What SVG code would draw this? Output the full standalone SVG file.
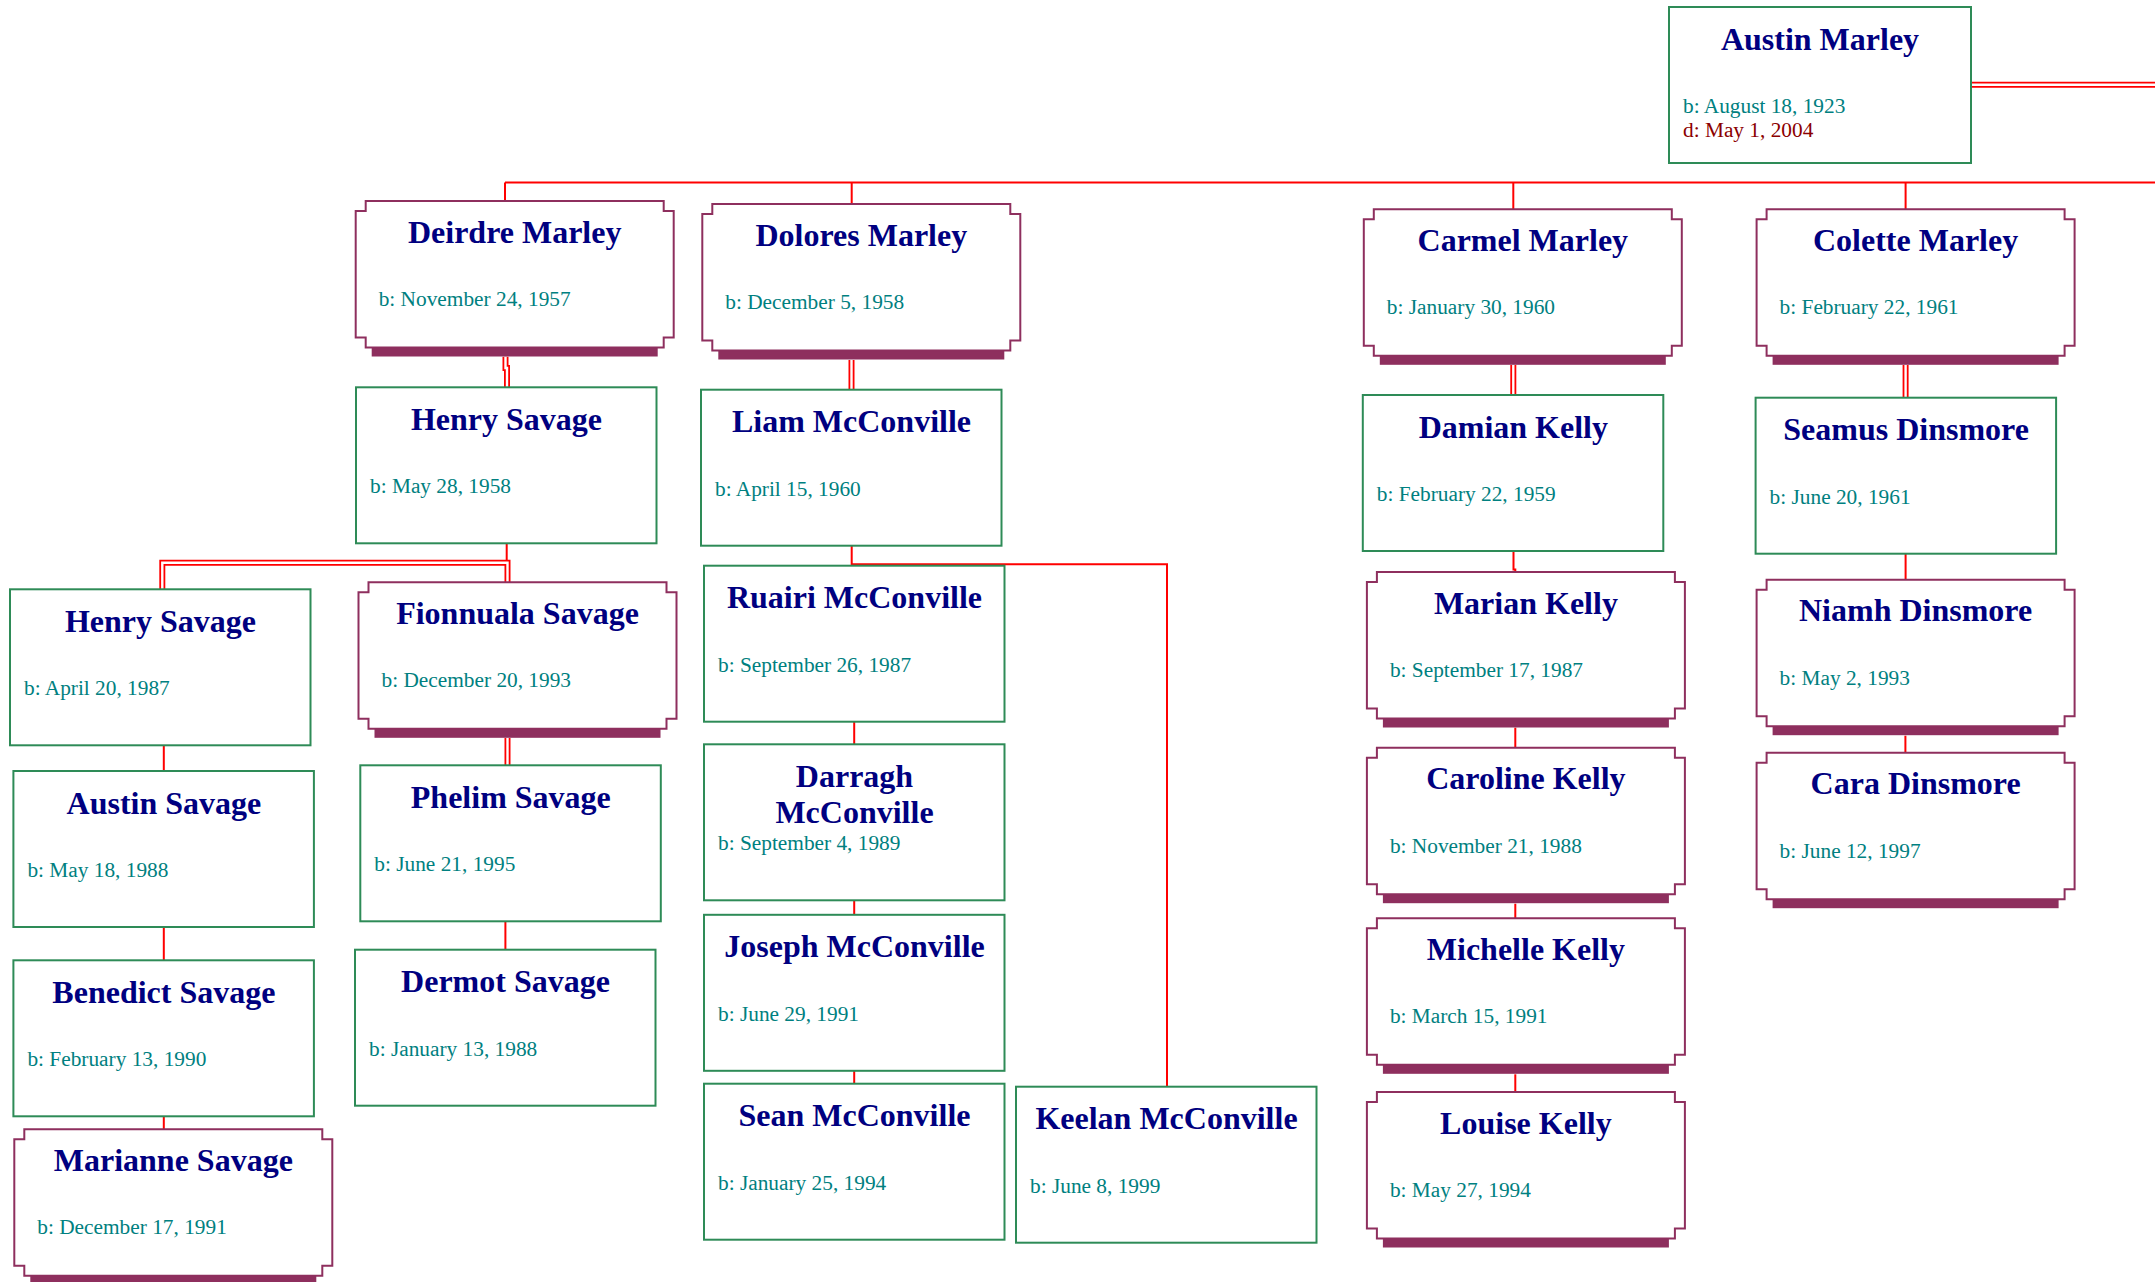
<svg xmlns="http://www.w3.org/2000/svg" xmlns:xlink="http://www.w3.org/1999/xlink" width="2155" height="1282" viewBox="0 0 2155 1282">
<style>
.mbox{fill:#fff;stroke:#2E8B57;stroke-width:2}
.fbox{fill:#fff;stroke:#8E2F5E;stroke-width:2}
.fsh{fill:#8E2F5E}
.nm{font-family:"Liberation Serif","Times New Roman",serif;font-weight:bold;font-size:32px;fill:#000080;text-anchor:middle}
.fnm{font-family:"Liberation Serif","Times New Roman",serif;font-weight:bold;font-size:32px;fill:#000080;text-anchor:middle}
.bd{font-family:"Liberation Serif","Times New Roman",serif;font-size:21.33px;fill:#008080}
.dd{font-family:"Liberation Serif","Times New Roman",serif;font-size:21.33px;fill:#8B0000}
.ln{fill:none;stroke:#FF0000;stroke-width:2}
.dbl{fill:none;stroke:#FF0000;stroke-width:6}
.dblw{fill:none;stroke:#FFFFFF;stroke-width:2.4}
</style>
<defs>
<rect id="mrect" class="mbox" width="300.5" height="156"/>
<path id="fshape" class="fbox" d="M10 0 H308 V10 H318 V136.5 H308 V146.5 H10 V136.5 H0 V10 H10 Z"/>
<rect id="fshadow" class="fsh" x="16" y="146.5" width="286" height="9"/>
<path id="d1" d="M1971 84.8 H2155"/>
<path id="d2" d="M505.5 356.7 V368 H507 V387.3"/>
<path id="d3" d="M162.3 589.3 V562.7 H507.5 V582.3"/>
<path id="d4" d="M507.5 738 V765.3"/>
<path id="d5" d="M851.5 360 V389.7"/>
<path id="d6" d="M1513.3 365 V395"/>
<path id="d7" d="M1905.6 365 V397.7"/>
</defs>

<g id="connectors">
<path class="ln" d="M505 182.5 H2155"/>
<path class="ln" d="M505 182.5 V201"/>
<path class="ln" d="M851.7 182.5 V204"/>
<path class="ln" d="M1513.3 182.5 V209.3"/>
<path class="ln" d="M1905.6 182.5 V209.3"/>
<path class="ln" d="M506.7 543.3 V562.7"/>
<path class="ln" d="M163.8 745.3 V771"/>
<path class="ln" d="M163.8 927 V960.3"/>
<path class="ln" d="M163.8 1116.3 V1129.3"/>
<path class="ln" d="M505.4 921.3 V949.7"/>
<path class="ln" d="M851.7 545.7 V564.3 H1167 V1086.7"/>
<path class="ln" d="M854.2 721.7 V744.3"/>
<path class="ln" d="M854.2 900.3 V914.8"/>
<path class="ln" d="M854.2 1070.8 V1083.7"/>
<path class="ln" d="M1513.5 551 V569.5 H1515.3 V572"/>
<path class="ln" d="M1515.3 727.7 V747.7"/>
<path class="ln" d="M1515.3 903.7 V918.3"/>
<path class="ln" d="M1515.3 1074.3 V1092"/>
<path class="ln" d="M1905.6 553.7 V579.7"/>
<path class="ln" d="M1905.4 735.7 V752.7"/>
<use xlink:href="#d1" class="dbl"/><use xlink:href="#d1" class="dblw"/>
<use xlink:href="#d2" class="dbl"/><use xlink:href="#d2" class="dblw"/>
<use xlink:href="#d3" class="dbl"/><use xlink:href="#d3" class="dblw"/>
<use xlink:href="#d4" class="dbl"/><use xlink:href="#d4" class="dblw"/>
<use xlink:href="#d5" class="dbl"/><use xlink:href="#d5" class="dblw"/>
<use xlink:href="#d6" class="dbl"/><use xlink:href="#d6" class="dblw"/>
<use xlink:href="#d7" class="dbl"/><use xlink:href="#d7" class="dblw"/>
</g>

<g id="austin-marley" transform="translate(1669,7)">
<rect class="mbox" width="302" height="156"/>
<text class="nm" x="151" y="43">Austin Marley</text>
<text class="bd" x="14" y="106">b: August 18, 1923</text>
<text class="dd" x="14" y="129.5">d: May 1, 2004</text>
</g>

<g id="deirdre-marley" transform="translate(355.7,201)">
<use xlink:href="#fshadow"/><use xlink:href="#fshape"/>
<text class="fnm" x="159" y="41.5">Deirdre Marley</text>
<text class="bd" x="23" y="105">b: November 24, 1957</text>
</g>
<g id="dolores-marley" transform="translate(702.3,204)">
<use xlink:href="#fshadow"/><use xlink:href="#fshape"/>
<text class="fnm" x="159" y="41.5">Dolores Marley</text>
<text class="bd" x="23" y="105">b: December 5, 1958</text>
</g>
<g id="carmel-marley" transform="translate(1363.8,209.3)">
<use xlink:href="#fshadow"/><use xlink:href="#fshape"/>
<text class="fnm" x="159" y="41.5">Carmel Marley</text>
<text class="bd" x="23" y="105">b: January 30, 1960</text>
</g>
<g id="colette-marley" transform="translate(1756.6,209.3)">
<use xlink:href="#fshadow"/><use xlink:href="#fshape"/>
<text class="fnm" x="159" y="41.5">Colette Marley</text>
<text class="bd" x="23" y="105">b: February 22, 1961</text>
</g>
<g id="fionnuala-savage" transform="translate(358.5,582.3)">
<use xlink:href="#fshadow"/><use xlink:href="#fshape"/>
<text class="fnm" x="159" y="41.5">Fionnuala Savage</text>
<text class="bd" x="23" y="105">b: December 20, 1993</text>
</g>
<g id="marianne-savage" transform="translate(14.3,1129.3)">
<use xlink:href="#fshadow"/><use xlink:href="#fshape"/>
<text class="fnm" x="159" y="41.5">Marianne Savage</text>
<text class="bd" x="23" y="105">b: December 17, 1991</text>
</g>
<g id="marian-kelly" transform="translate(1366.9,572)">
<use xlink:href="#fshadow"/><use xlink:href="#fshape"/>
<text class="fnm" x="159" y="41.5">Marian Kelly</text>
<text class="bd" x="23" y="105">b: September 17, 1987</text>
</g>
<g id="caroline-kelly" transform="translate(1366.9,747.7)">
<use xlink:href="#fshadow"/><use xlink:href="#fshape"/>
<text class="fnm" x="159" y="41.5">Caroline Kelly</text>
<text class="bd" x="23" y="105">b: November 21, 1988</text>
</g>
<g id="michelle-kelly" transform="translate(1366.9,918.3)">
<use xlink:href="#fshadow"/><use xlink:href="#fshape"/>
<text class="fnm" x="159" y="41.5">Michelle Kelly</text>
<text class="bd" x="23" y="105">b: March 15, 1991</text>
</g>
<g id="louise-kelly" transform="translate(1366.9,1092)">
<use xlink:href="#fshadow"/><use xlink:href="#fshape"/>
<text class="fnm" x="159" y="41.5">Louise Kelly</text>
<text class="bd" x="23" y="105">b: May 27, 1994</text>
</g>
<g id="niamh-dinsmore" transform="translate(1756.6,579.7)">
<use xlink:href="#fshadow"/><use xlink:href="#fshape"/>
<text class="fnm" x="159" y="41.5">Niamh Dinsmore</text>
<text class="bd" x="23" y="105">b: May 2, 1993</text>
</g>
<g id="cara-dinsmore" transform="translate(1756.6,752.7)">
<use xlink:href="#fshadow"/><use xlink:href="#fshape"/>
<text class="fnm" x="159" y="41.5">Cara Dinsmore</text>
<text class="bd" x="23" y="105">b: June 12, 1997</text>
</g>

<g id="henry-savage-1958" transform="translate(356,387.3)">
<use xlink:href="#mrect"/>
<text class="nm" x="150.5" y="42.5">Henry Savage</text>
<text class="bd" x="14" y="106">b: May 28, 1958</text>
</g>
<g id="liam-mcconville" transform="translate(701,389.7)">
<use xlink:href="#mrect"/>
<text class="nm" x="150.5" y="42.5">Liam McConville</text>
<text class="bd" x="14" y="106">b: April 15, 1960</text>
</g>
<g id="damian-kelly" transform="translate(1362.8,395)">
<use xlink:href="#mrect"/>
<text class="nm" x="150.5" y="42.5">Damian Kelly</text>
<text class="bd" x="14" y="106">b: February 22, 1959</text>
</g>
<g id="seamus-dinsmore" transform="translate(1755.6,397.7)">
<use xlink:href="#mrect"/>
<text class="nm" x="150.5" y="42.5">Seamus Dinsmore</text>
<text class="bd" x="14" y="106">b: June 20, 1961</text>
</g>
<g id="henry-savage-1987" transform="translate(10,589.3)">
<use xlink:href="#mrect"/>
<text class="nm" x="150.5" y="42.5">Henry Savage</text>
<text class="bd" x="14" y="106">b: April 20, 1987</text>
</g>
<g id="austin-savage" transform="translate(13.4,771)">
<use xlink:href="#mrect"/>
<text class="nm" x="150.5" y="42.5">Austin Savage</text>
<text class="bd" x="14" y="106">b: May 18, 1988</text>
</g>
<g id="benedict-savage" transform="translate(13.4,960.3)">
<use xlink:href="#mrect"/>
<text class="nm" x="150.5" y="42.5">Benedict Savage</text>
<text class="bd" x="14" y="106">b: February 13, 1990</text>
</g>
<g id="phelim-savage" transform="translate(360.3,765.3)">
<use xlink:href="#mrect"/>
<text class="nm" x="150.5" y="42.5">Phelim Savage</text>
<text class="bd" x="14" y="106">b: June 21, 1995</text>
</g>
<g id="dermot-savage" transform="translate(355,949.7)">
<use xlink:href="#mrect"/>
<text class="nm" x="150.5" y="42.5">Dermot Savage</text>
<text class="bd" x="14" y="106">b: January 13, 1988</text>
</g>
<g id="ruairi-mcconville" transform="translate(704,565.7)">
<use xlink:href="#mrect"/>
<text class="nm" x="150.5" y="42.5">Ruairi McConville</text>
<text class="bd" x="14" y="106">b: September 26, 1987</text>
</g>
<g id="darragh-mcconville" transform="translate(704,744.3)">
<use xlink:href="#mrect"/>
<text class="nm" x="150.5" y="42.5">Darragh</text>
<text class="nm" x="150.5" y="79">McConville</text>
<text class="bd" x="14" y="105.5">b: September 4, 1989</text>
</g>
<g id="joseph-mcconville" transform="translate(704,914.8)">
<use xlink:href="#mrect"/>
<text class="nm" x="150.5" y="42.5">Joseph McConville</text>
<text class="bd" x="14" y="106">b: June 29, 1991</text>
</g>
<g id="sean-mcconville" transform="translate(704,1083.7)">
<use xlink:href="#mrect"/>
<text class="nm" x="150.5" y="42.5">Sean McConville</text>
<text class="bd" x="14" y="106">b: January 25, 1994</text>
</g>
<g id="keelan-mcconville" transform="translate(1016,1086.7)">
<use xlink:href="#mrect"/>
<text class="nm" x="150.5" y="42.5">Keelan McConville</text>
<text class="bd" x="14" y="106">b: June 8, 1999</text>
</g>
</svg>
